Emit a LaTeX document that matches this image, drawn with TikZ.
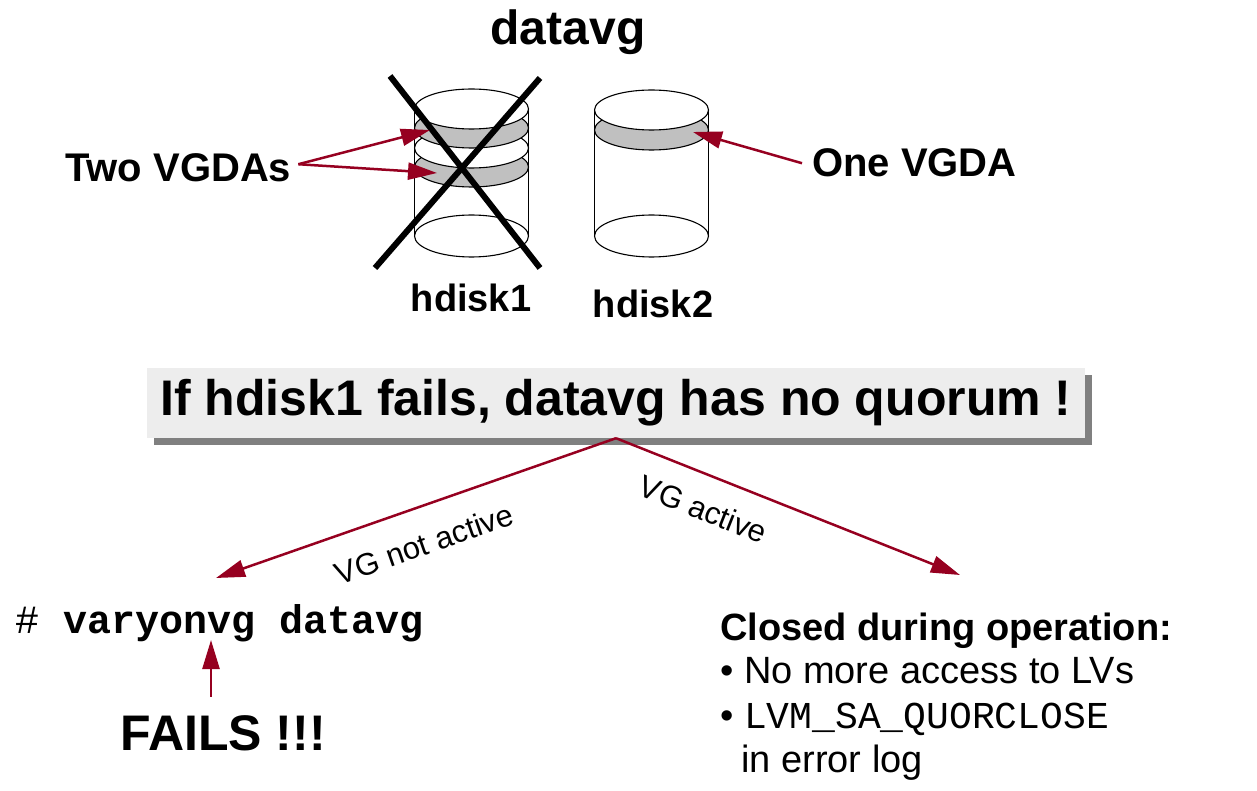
\documentclass[tikz,border=0pt]{standalone}
\usepackage{fontspec}
\setmainfont{Liberation Sans}
\setmonofont{Liberation Mono}
\usetikzlibrary{positioning,arrows.meta,shadows}
\definecolor{alertred}{RGB}{150,0,32}
\definecolor{bandgray}{RGB}{192,192,192}
\tikzset{
  title/.style={inner sep=0pt,font=\fontsize{48}{52}\selectfont\bfseries},
  lbl/.style={inner sep=0pt,font=\fontsize{38}{44}\selectfont\bfseries},
  callout/.style={inner sep=0pt,font=\fontsize{40}{44}\selectfont\bfseries},
  txt/.style={inner sep=0pt,font=\fontsize{38}{44}\selectfont},
  note/.style={inner sep=0pt,font=\fontsize{31}{34}\selectfont},
  cmd/.style={inner sep=0pt,font=\fontsize{40}{44}\selectfont\ttfamily},
  banner/.style={rectangle,fill=black!7,minimum width=938pt,minimum height=70pt,
    inner sep=0pt,font=\fontsize{50}{54}\selectfont\bfseries,
    drop shadow={shadow xshift=7pt,shadow yshift=-7pt,fill=black!50,opacity=1}},
  rim/.style={line width=1.1pt},
  ptr/.style={draw=alertred,line width=2.5pt,-{Triangle[length=29pt,width=17pt]}},
  cross/.style={line width=6pt},
}

\begin{document}
\begin{tikzpicture}[x=1pt,y=-1pt]
  \useasboundingbox (0,0) rectangle (1257,791);
  \node[title,anchor=base] (vg) at (568,45) {datavg};

  % hdisk1, rings painted from the bottom up
  \draw[rim] (414.5,109) -- (414.5,236) (528.5,109) -- (528.5,236);
  \draw[rim] (471.5,236) ellipse[x radius=57pt,y radius=21pt];
  \foreach \yy/\col in {167/bandgray,148/white,128/bandgray,109/white}
    \filldraw[rim,fill=\col] (471.5,\yy) ellipse[x radius=57pt,y radius=20pt];
  % hdisk2
  \draw[rim] (594.5,110) -- (594.5,236) (708.5,110) -- (708.5,236);
  \draw[rim] (651.5,236) ellipse[x radius=57pt,y radius=21pt];
  \foreach \yy/\col in {130/bandgray,110/white}
    \filldraw[rim,fill=\col] (651.5,\yy) ellipse[x radius=57pt,y radius=20pt];
  % hdisk1 is gone
  \draw[cross] (390,76) -- (540,268);
  \draw[cross] (540,78) -- (375,268);

  \node[lbl,anchor=base] (hd1) at (471,312) {hdisk1};
  \node[lbl,anchor=base] (hd2) at (653,317) {hdisk2};
  \node[callout,anchor=base west] (twovg) at (65,182) {Two VGDAs};
  \node[callout,anchor=base west] (onevg) at (812,177) {One VGDA};
  \coordinate (ring1) at (430,130);
  \coordinate (ring2) at (437,173);
  \coordinate (ring3) at (693,132);
  \draw[ptr] ([xshift=7pt,yshift=4pt]twovg.east) -- (ring1);
  \draw[ptr] ([xshift=7pt,yshift=4pt]twovg.east) -- (ring2);
  \draw[ptr] ([xshift=-10pt]onevg.west) -- (ring3);

  % quorum lost
  \node[banner] (quorum) at (616,403) {If hdisk1 fails, datavg has no quorum !};
  \coordinate (offtip) at (216,578);
  \coordinate (ontip) at (960,575);
  \draw[ptr] (quorum.south) -- node[note,pos=0.51,sloped,below=24pt] {VG not active} (offtip);
  \draw[ptr] (quorum.south) -- node[note,pos=0.29,sloped,below=21pt] {VG active} (ontip);

  % left branch
  \node[cmd,anchor=base west] (vary) at (15,633) {\#\ \textbf{varyonvg datavg}};
  \node[title,font=\fontsize{50}{54}\selectfont\bfseries,anchor=base west] (fails) at (120,750) {FAILS !!!};
  \coordinate (varytip) at (211,640);
  \draw[ptr] ([yshift=18pt]fails.north -| varytip) -- (varytip);

  % right branch
  \node[lbl,anchor=base west] (closed) at (720,640) {Closed during operation:};
  \node[txt,anchor=base west] (noacc) at (720,683) {\textbullet\ No more access to LVs};
  \node[txt,anchor=base west] (errlog) at (720,728) {\textbullet\ \texttt{LVM\_SA\_QUORCLOSE}};
  \node[txt,anchor=base west] (inlog) at (741,772) {in error log};
\end{tikzpicture}
\end{document}
